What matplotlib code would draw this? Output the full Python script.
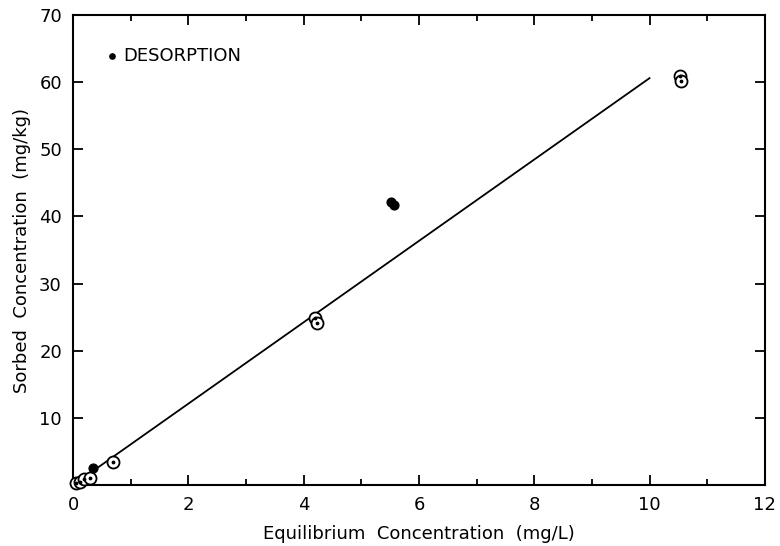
import numpy as np
import matplotlib.pyplot as plt
from matplotlib.ticker import MultipleLocator, FixedLocator

# sorption points (open circles)
sorp_x = [0.05, 0.12, 0.19, 0.30, 0.69, 4.19, 4.23, 10.52, 10.55]
sorp_y = [0.3, 0.5, 0.9, 1.1, 3.4, 24.9, 24.2, 60.9, 60.2]

# desorption points (filled)
desorp_x = [0.35, 5.52, 5.56]
desorp_y = [2.6, 42.2, 41.7]

# fitted isotherm line
fit_x = [0.2, 10.0]
fit_y = [1.2, 60.6]

fig = plt.figure(figsize=(7.8, 5.46), dpi=100)
ax = fig.add_axes([0.0936, 0.1117, 0.887, 0.8608])

ax.plot(fit_x, fit_y, color="black", lw=1.3, zorder=2)

ax.scatter(sorp_x, sorp_y, s=75, facecolors="white", edgecolors="black",
           linewidths=1.3, zorder=3, clip_on=False)
ax.scatter(sorp_x, sorp_y, s=3, color="black", zorder=4, clip_on=False)
ax.scatter(desorp_x, desorp_y, s=40, color="black", zorder=4,
           label="DESORPTION", clip_on=False)

ax.set_xlim(0, 12)
ax.set_ylim(0, 70)
ax.xaxis.set_major_locator(MultipleLocator(2))
ax.xaxis.set_minor_locator(MultipleLocator(1))
ax.yaxis.set_major_locator(FixedLocator([10, 20, 30, 40, 50, 60, 70]))

ax.tick_params(which="both", direction="in", top=True, right=True,
               width=1.3, labelsize=13, pad=8)
ax.tick_params(which="major", length=7)
ax.tick_params(which="minor", length=4)
for s in ax.spines.values():
    s.set_linewidth(1.5)

ax.set_xlabel("Equilibrium  Concentration  (mg/L)", fontsize=13, labelpad=8)
ax.set_ylabel("Sorbed  Concentration  (mg/kg)", fontsize=13, labelpad=6)

# legend only for the filled desorption points
leg = ax.legend(loc="upper left", bbox_to_anchor=(0.02, 0.967), frameon=False,
                handletextpad=0.1, handlelength=1.0, fontsize=13,
                markerscale=0.6)

plt.savefig("out.png", dpi=100)
